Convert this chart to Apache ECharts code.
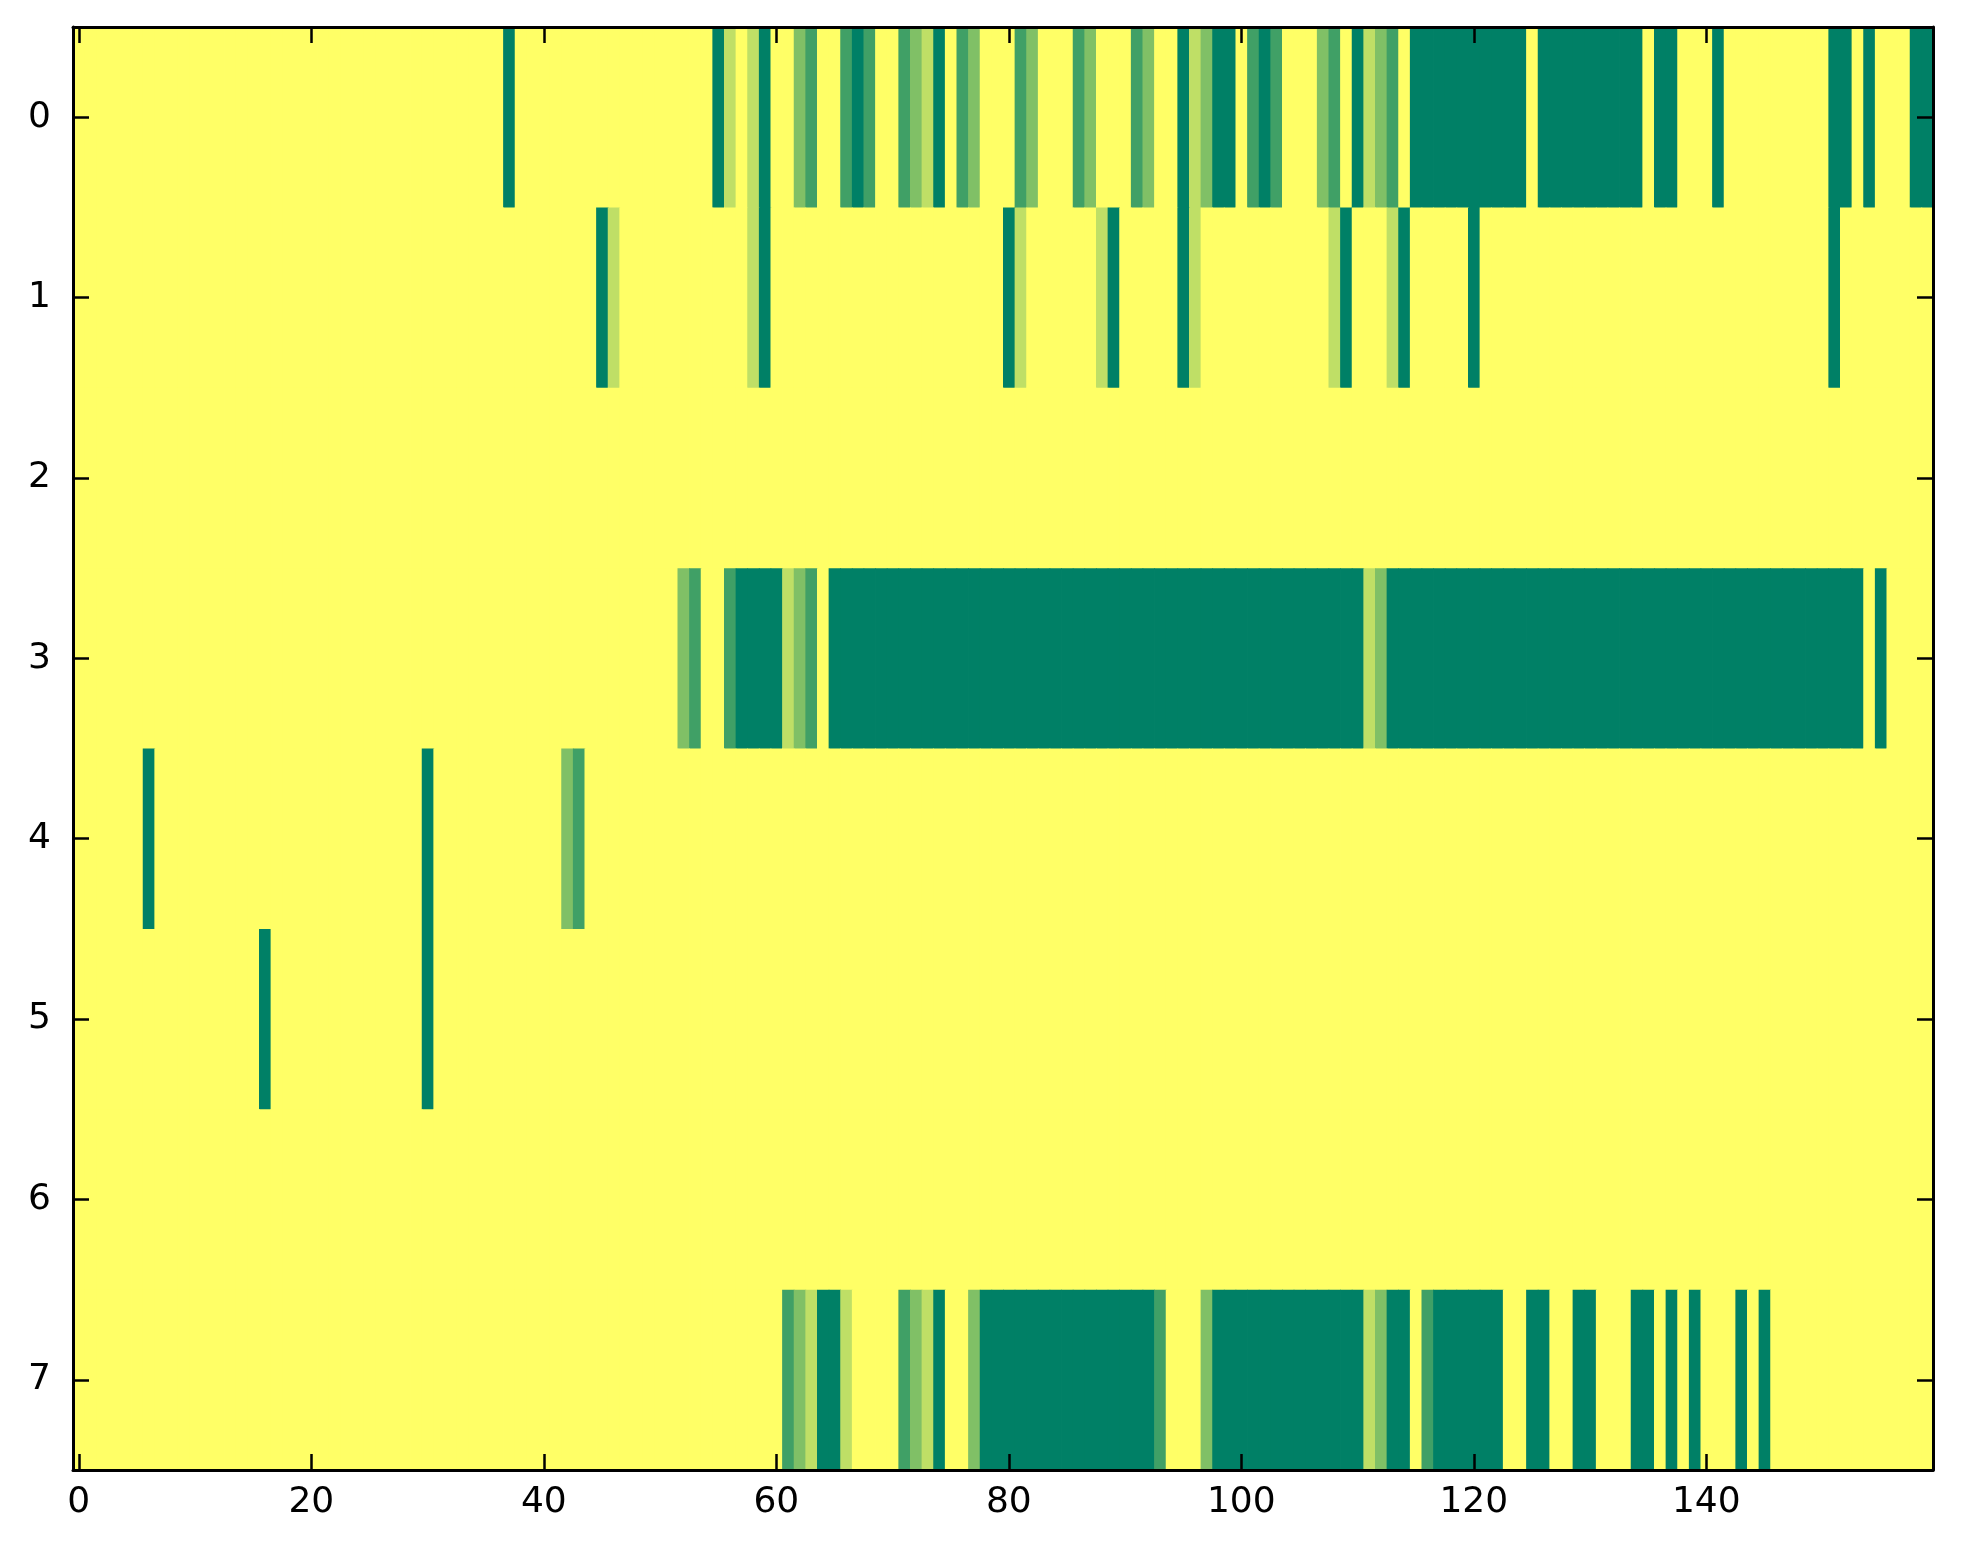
<!DOCTYPE html>
<html>
<head>
<meta charset="utf-8">
<script src="https://cdn.jsdelivr.net/npm/echarts@6/dist/echarts.min.js"></script>
<style>
html,body{margin:0;padding:0;background:#ffffff;}
#chart{width:1963px;height:1564px;}
</style>
</head>
<body>
<div id="chart"></div>
<script>
// Column categories 0..159 and row categories 0..7
const xCategories = [];
for (let i = 0; i < 160; i++) xCategories.push(String(i));
const yCategories = ['0','1','2','3','4','5','6','7'];
const xTickLabels = ['0','20','40','60','80','100','120','140'];

// Cell values per row (0 = yellow ... 4 = dark green)
const row0 = [
0,0,0,0,0,0,0,0,0,0, 0,0,0,0,0,0,0,0,0,0,
0,0,0,0,0,0,0,0,0,0, 0,0,0,0,0,0,0,4,0,0,
0,0,0,0,0,0,0,0,0,0, 0,0,0,0,0,4,1,0,1,4,
0,0,2,3,0,0,3,4,3,0, 0,3,2,1,4,0,3,2,0,0,
0,3,2,0,0,0,3,2,0,0, 0,3,2,0,0,4,1,2,4,4,
0,3,4,3,0,0,0,2,3,0, 4,1,2,3,0,4,4,4,4,4,
4,4,4,4,4,0,4,4,4,4, 4,4,4,4,4,0,4,4,0,0,
0,4,0,0,0,0,0,0,0,0, 0,4,4,0,4,0,0,0,4,4
];
const row1 = [
0,0,0,0,0,0,0,0,0,0, 0,0,0,0,0,0,0,0,0,0,
0,0,0,0,0,0,0,0,0,0, 0,0,0,0,0,0,0,0,0,0,
0,0,0,0,0,4,1,0,0,0, 0,0,0,0,0,0,0,0,1,4,
0,0,0,0,0,0,0,0,0,0, 0,0,0,0,0,0,0,0,0,0,
4,1,0,0,0,0,0,0,1,4, 0,0,0,0,0,4,1,0,0,0,
0,0,0,0,0,0,0,0,1,4, 0,0,0,1,4,0,0,0,0,0,
4,0,0,0,0,0,0,0,0,0, 0,0,0,0,0,0,0,0,0,0,
0,0,0,0,0,0,0,0,0,0, 0,4,0,0,0,0,0,0,0,0
];
const row2 = [
0,0,0,0,0,0,0,0,0,0, 0,0,0,0,0,0,0,0,0,0,
0,0,0,0,0,0,0,0,0,0, 0,0,0,0,0,0,0,0,0,0,
0,0,0,0,0,0,0,0,0,0, 0,0,0,0,0,0,0,0,0,0,
0,0,0,0,0,0,0,0,0,0, 0,0,0,0,0,0,0,0,0,0,
0,0,0,0,0,0,0,0,0,0, 0,0,0,0,0,0,0,0,0,0,
0,0,0,0,0,0,0,0,0,0, 0,0,0,0,0,0,0,0,0,0,
0,0,0,0,0,0,0,0,0,0, 0,0,0,0,0,0,0,0,0,0,
0,0,0,0,0,0,0,0,0,0, 0,0,0,0,0,0,0,0,0,0
];
const row3 = [
0,0,0,0,0,0,0,0,0,0, 0,0,0,0,0,0,0,0,0,0,
0,0,0,0,0,0,0,0,0,0, 0,0,0,0,0,0,0,0,0,0,
0,0,0,0,0,0,0,0,0,0, 0,0,2,3,0,0,3,4,4,4,
4,1,2,3,0,4,4,4,4,4, 4,4,4,4,4,4,4,4,4,4,
4,4,4,4,4,4,4,4,4,4, 4,4,4,4,4,4,4,4,4,4,
4,4,4,4,4,4,4,4,4,4, 4,1,2,4,4,4,4,4,4,4,
4,4,4,4,4,4,4,4,4,4, 4,4,4,4,4,4,4,4,4,4,
4,4,4,4,4,4,4,4,4,4, 4,4,4,4,0,4,0,0,0,0
];
const row4 = [
0,0,0,0,0,0,4,0,0,0, 0,0,0,0,0,0,0,0,0,0,
0,0,0,0,0,0,0,0,0,0, 4,0,0,0,0,0,0,0,0,0,
0,0,2,3,0,0,0,0,0,0, 0,0,0,0,0,0,0,0,0,0,
0,0,0,0,0,0,0,0,0,0, 0,0,0,0,0,0,0,0,0,0,
0,0,0,0,0,0,0,0,0,0, 0,0,0,0,0,0,0,0,0,0,
0,0,0,0,0,0,0,0,0,0, 0,0,0,0,0,0,0,0,0,0,
0,0,0,0,0,0,0,0,0,0, 0,0,0,0,0,0,0,0,0,0,
0,0,0,0,0,0,0,0,0,0, 0,0,0,0,0,0,0,0,0,0
];
const row5 = [
0,0,0,0,0,0,0,0,0,0, 0,0,0,0,0,0,4,0,0,0,
0,0,0,0,0,0,0,0,0,0, 4,0,0,0,0,0,0,0,0,0,
0,0,0,0,0,0,0,0,0,0, 0,0,0,0,0,0,0,0,0,0,
0,0,0,0,0,0,0,0,0,0, 0,0,0,0,0,0,0,0,0,0,
0,0,0,0,0,0,0,0,0,0, 0,0,0,0,0,0,0,0,0,0,
0,0,0,0,0,0,0,0,0,0, 0,0,0,0,0,0,0,0,0,0,
0,0,0,0,0,0,0,0,0,0, 0,0,0,0,0,0,0,0,0,0,
0,0,0,0,0,0,0,0,0,0, 0,0,0,0,0,0,0,0,0,0
];
const row6 = [
0,0,0,0,0,0,0,0,0,0, 0,0,0,0,0,0,0,0,0,0,
0,0,0,0,0,0,0,0,0,0, 0,0,0,0,0,0,0,0,0,0,
0,0,0,0,0,0,0,0,0,0, 0,0,0,0,0,0,0,0,0,0,
0,0,0,0,0,0,0,0,0,0, 0,0,0,0,0,0,0,0,0,0,
0,0,0,0,0,0,0,0,0,0, 0,0,0,0,0,0,0,0,0,0,
0,0,0,0,0,0,0,0,0,0, 0,0,0,0,0,0,0,0,0,0,
0,0,0,0,0,0,0,0,0,0, 0,0,0,0,0,0,0,0,0,0,
0,0,0,0,0,0,0,0,0,0, 0,0,0,0,0,0,0,0,0,0
];
const row7 = [
0,0,0,0,0,0,0,0,0,0, 0,0,0,0,0,0,0,0,0,0,
0,0,0,0,0,0,0,0,0,0, 0,0,0,0,0,0,0,0,0,0,
0,0,0,0,0,0,0,0,0,0, 0,0,0,0,0,0,0,0,0,0,
0,3,2,1,4,4,1,0,0,0, 0,3,2,1,4,0,0,2,4,4,
4,4,4,4,4,4,4,4,4,4, 4,4,4,3,0,0,0,2,4,4,
4,4,4,4,4,4,4,4,4,4, 4,1,2,4,4,0,3,4,4,4,
4,4,4,0,0,4,4,0,0,4, 4,0,0,0,4,4,0,4,0,4,
0,0,0,4,0,4,0,0,0,0, 0,0,0,0,0,0,0,0,0,0
];

const rows = [row0, row1, row2, row3, row4, row5, row6, row7];
const cells = [];
rows.forEach((r, y) => r.forEach((v, x) => cells.push([x, y, v])));

const labelFont = { fontFamily: 'DejaVu Sans', fontSize: 36, color: '#000000' };
const lineStyle = { color: '#000000', width: 3 };
const tickStyle = { color: '#000000', width: 2.5 };

function cellRender(params, api) {
  const c = api.coord([api.value(0), api.value(1)]);
  const s = api.size([1, 1]);
  return {
    type: 'rect',
    shape: { x: c[0] - s[0] / 2, y: c[1] - s[1] / 2, width: s[0] + 0.8, height: s[1] + 0.8 },
    style: { fill: api.visual('color'), stroke: null }
  };
}

const chart = echarts.init(document.getElementById('chart'), null, { renderer: 'canvas' });
chart.setOption({
  animation: false,
  backgroundColor: '#ffffff',
  grid: { left: 73, right: 30, top: 27, bottom: 94, containLabel: false },
  xAxis: [
    {
      type: 'category', data: xCategories, position: 'bottom', boundaryGap: true, z: 10,
      axisLine: { show: true, onZero: false, lineStyle: lineStyle },
      axisTick: { show: true, inside: true, length: 16, interval: 19, alignWithLabel: true, lineStyle: tickStyle },
      axisLabel: Object.assign({ interval: 19, margin: 15, formatter: v => (xTickLabels.indexOf(v) >= 0 ? v : '') }, labelFont),
      splitLine: { show: false }
    },
    {
      type: 'category', data: xCategories, position: 'top', boundaryGap: true, z: 10,
      axisLine: { show: true, onZero: false, lineStyle: lineStyle },
      axisTick: { show: true, inside: true, length: 16, interval: 19, alignWithLabel: true, lineStyle: tickStyle },
      axisLabel: { show: false, interval: 19 },
      splitLine: { show: false }
    }
  ],
  yAxis: [
    {
      type: 'category', data: yCategories, inverse: true, position: 'left', boundaryGap: true, z: 10,
      axisLine: { show: true, onZero: false, lineStyle: lineStyle },
      axisTick: { show: true, inside: true, length: 16, alignWithLabel: true, lineStyle: tickStyle },
      axisLabel: Object.assign({ margin: 22 }, labelFont),
      splitLine: { show: false }
    },
    {
      type: 'category', data: yCategories, inverse: true, position: 'right', boundaryGap: true, z: 10,
      axisLine: { show: true, onZero: false, lineStyle: lineStyle },
      axisTick: { show: true, inside: true, length: 16, alignWithLabel: true, lineStyle: tickStyle },
      axisLabel: { show: false },
      splitLine: { show: false }
    }
  ],
  visualMap: {
    show: false, type: 'continuous', min: 0, max: 4, dimension: 2, seriesIndex: 0,
    inRange: { color: ['#ffff66', '#008066'] }
  },
  series: [{
    type: 'custom', xAxisIndex: 0, yAxisIndex: 0, data: cells,
    encode: { x: 0, y: 1 },
    renderItem: cellRender,
    clip: true,
    silent: true,
    z: 2
  }]
});
</script>
</body>
</html>
